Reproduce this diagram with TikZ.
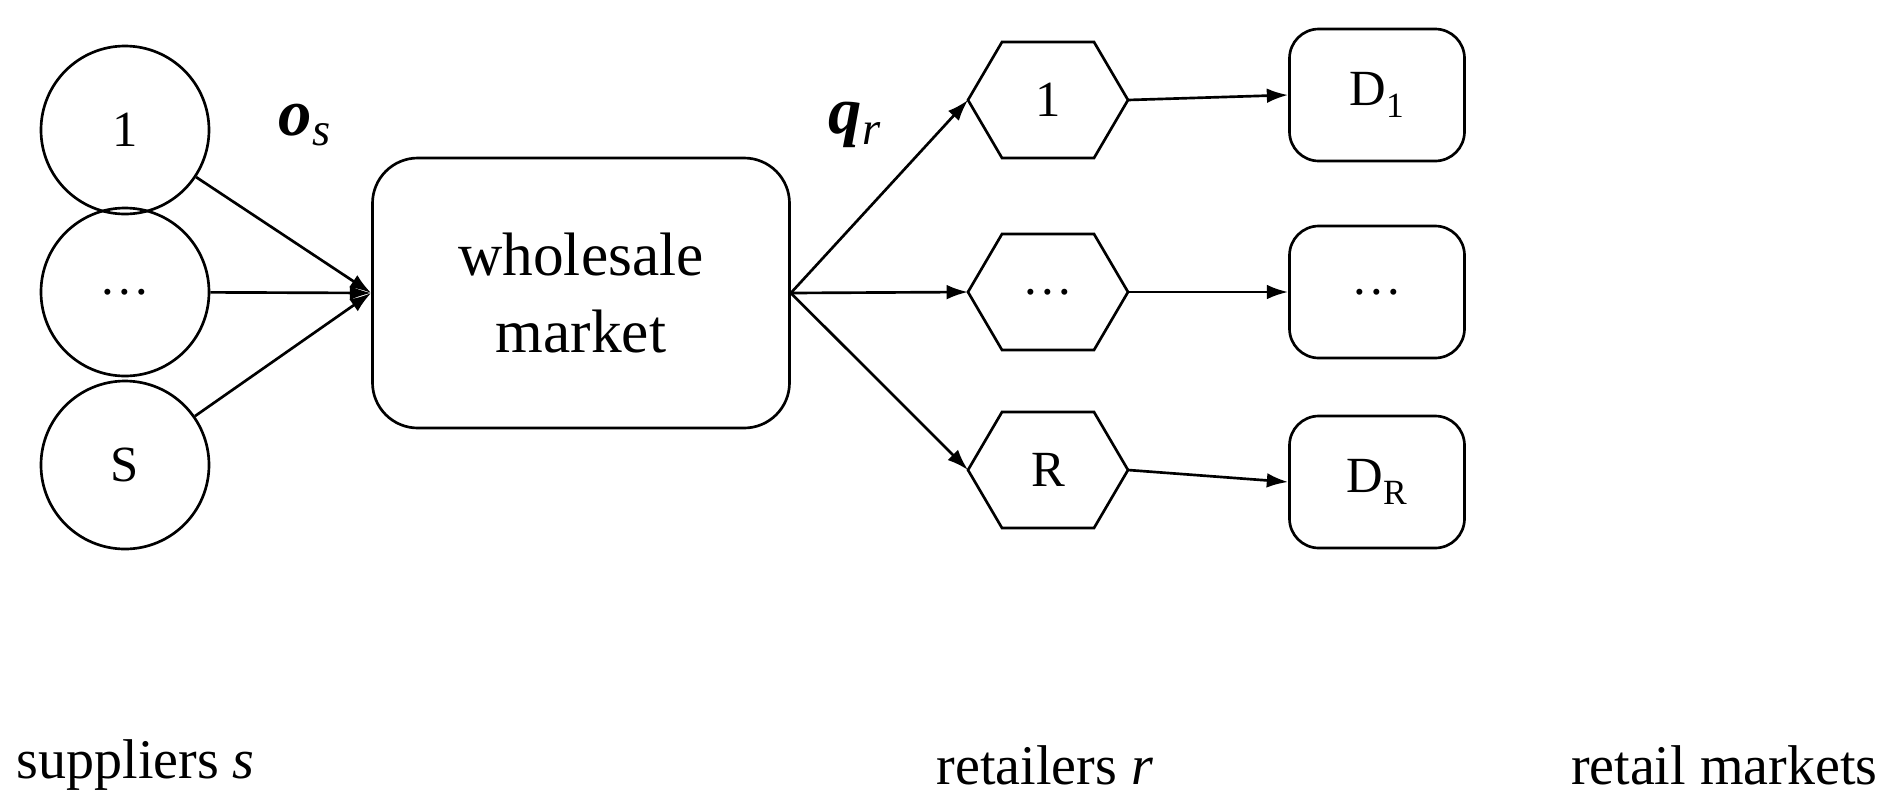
\documentclass[tikz,border=0pt]{standalone}
\usepackage{fontspec}
\setmainfont{Liberation Serif}
\usetikzlibrary{arrows.meta}
\begin{document}
\begin{tikzpicture}[x=0.75pt,y=-0.75pt,
  ln/.style={line width=2pt},
  arr/.style={ln,-{Latex[length=16pt,width=11pt]}},
  sup/.style={circle,draw,ln,minimum size=168*0.75pt,inner sep=0pt,font=\fontsize{38}{42}\selectfont},
  mk/.style={draw,ln,rounded corners=22pt,minimum width=175*0.75pt,minimum height=132*0.75pt,font=\fontsize{38}{42}\selectfont},
  lab/.style={font=\fontsize{42}{46}\selectfont}]
\node[sup] (s1) at (125,130) {1};
\node[sup] (s2) at (125,292) {\dots};
\node[sup] (s3) at (125,465) {S};
\node[draw,ln,rounded corners=34pt,minimum width=417*0.75pt,minimum height=270*0.75pt,align=center,font=\fontsize{46}{58}\selectfont] (wm) at (581,293) {wholesale\\market};
\foreach \n/\y/\t in {r1/100/1,r2/292/\dots,r3/470/R}{
  \draw[ln] (968,\y) -- (1002,\y-58) -- (1094,\y-58) -- (1128,\y) -- (1094,\y+58) -- (1002,\y+58) -- cycle;
  \coordinate (\n L) at (968,\y);
  \coordinate (\n R) at (1128,\y);
  \node[font=\fontsize{38}{42}\selectfont] (\n) at (1048,\y) {\t};
}
\node[mk] (m1) at (1377,95) {D\textsubscript{1}};
\node[mk] (m2) at (1377,292) {\dots};
\node[mk] (m3) at (1377,482) {D\textsubscript{R}};
\foreach \s in {s1,s2,s3} \draw[arr] (\s) -- (wm.west);
\foreach \r in {r1,r2,r3} \draw[arr] (wm.east) -- (\r L);
\draw[arr] (r1R) -- (m1.west);
\draw[arr] (r2R) -- (m2.west);
\draw[arr] (r3R) -- (m3.west);
\node[font=\fontsize{50}{54}\selectfont] (os) at (305,125) {\textbf{\textit{o}}\textsubscript{\textit{s}}};
\node[font=\fontsize{50}{54}\selectfont] (qr) at (855,125) {\textbf{\textit{q}}\textsubscript{\textit{r}}};
\node[lab,anchor=west] (ls) at (12,765) {suppliers \textit{s}};
\node[lab] (lr) at (1045,765) {retailers \textit{r}};
\node[lab,anchor=east] (lm) at (1882,765) {retail markets};
\pgfresetboundingbox
\useasboundingbox (0,0) rectangle (1889,808);
\end{tikzpicture}
\end{document}
